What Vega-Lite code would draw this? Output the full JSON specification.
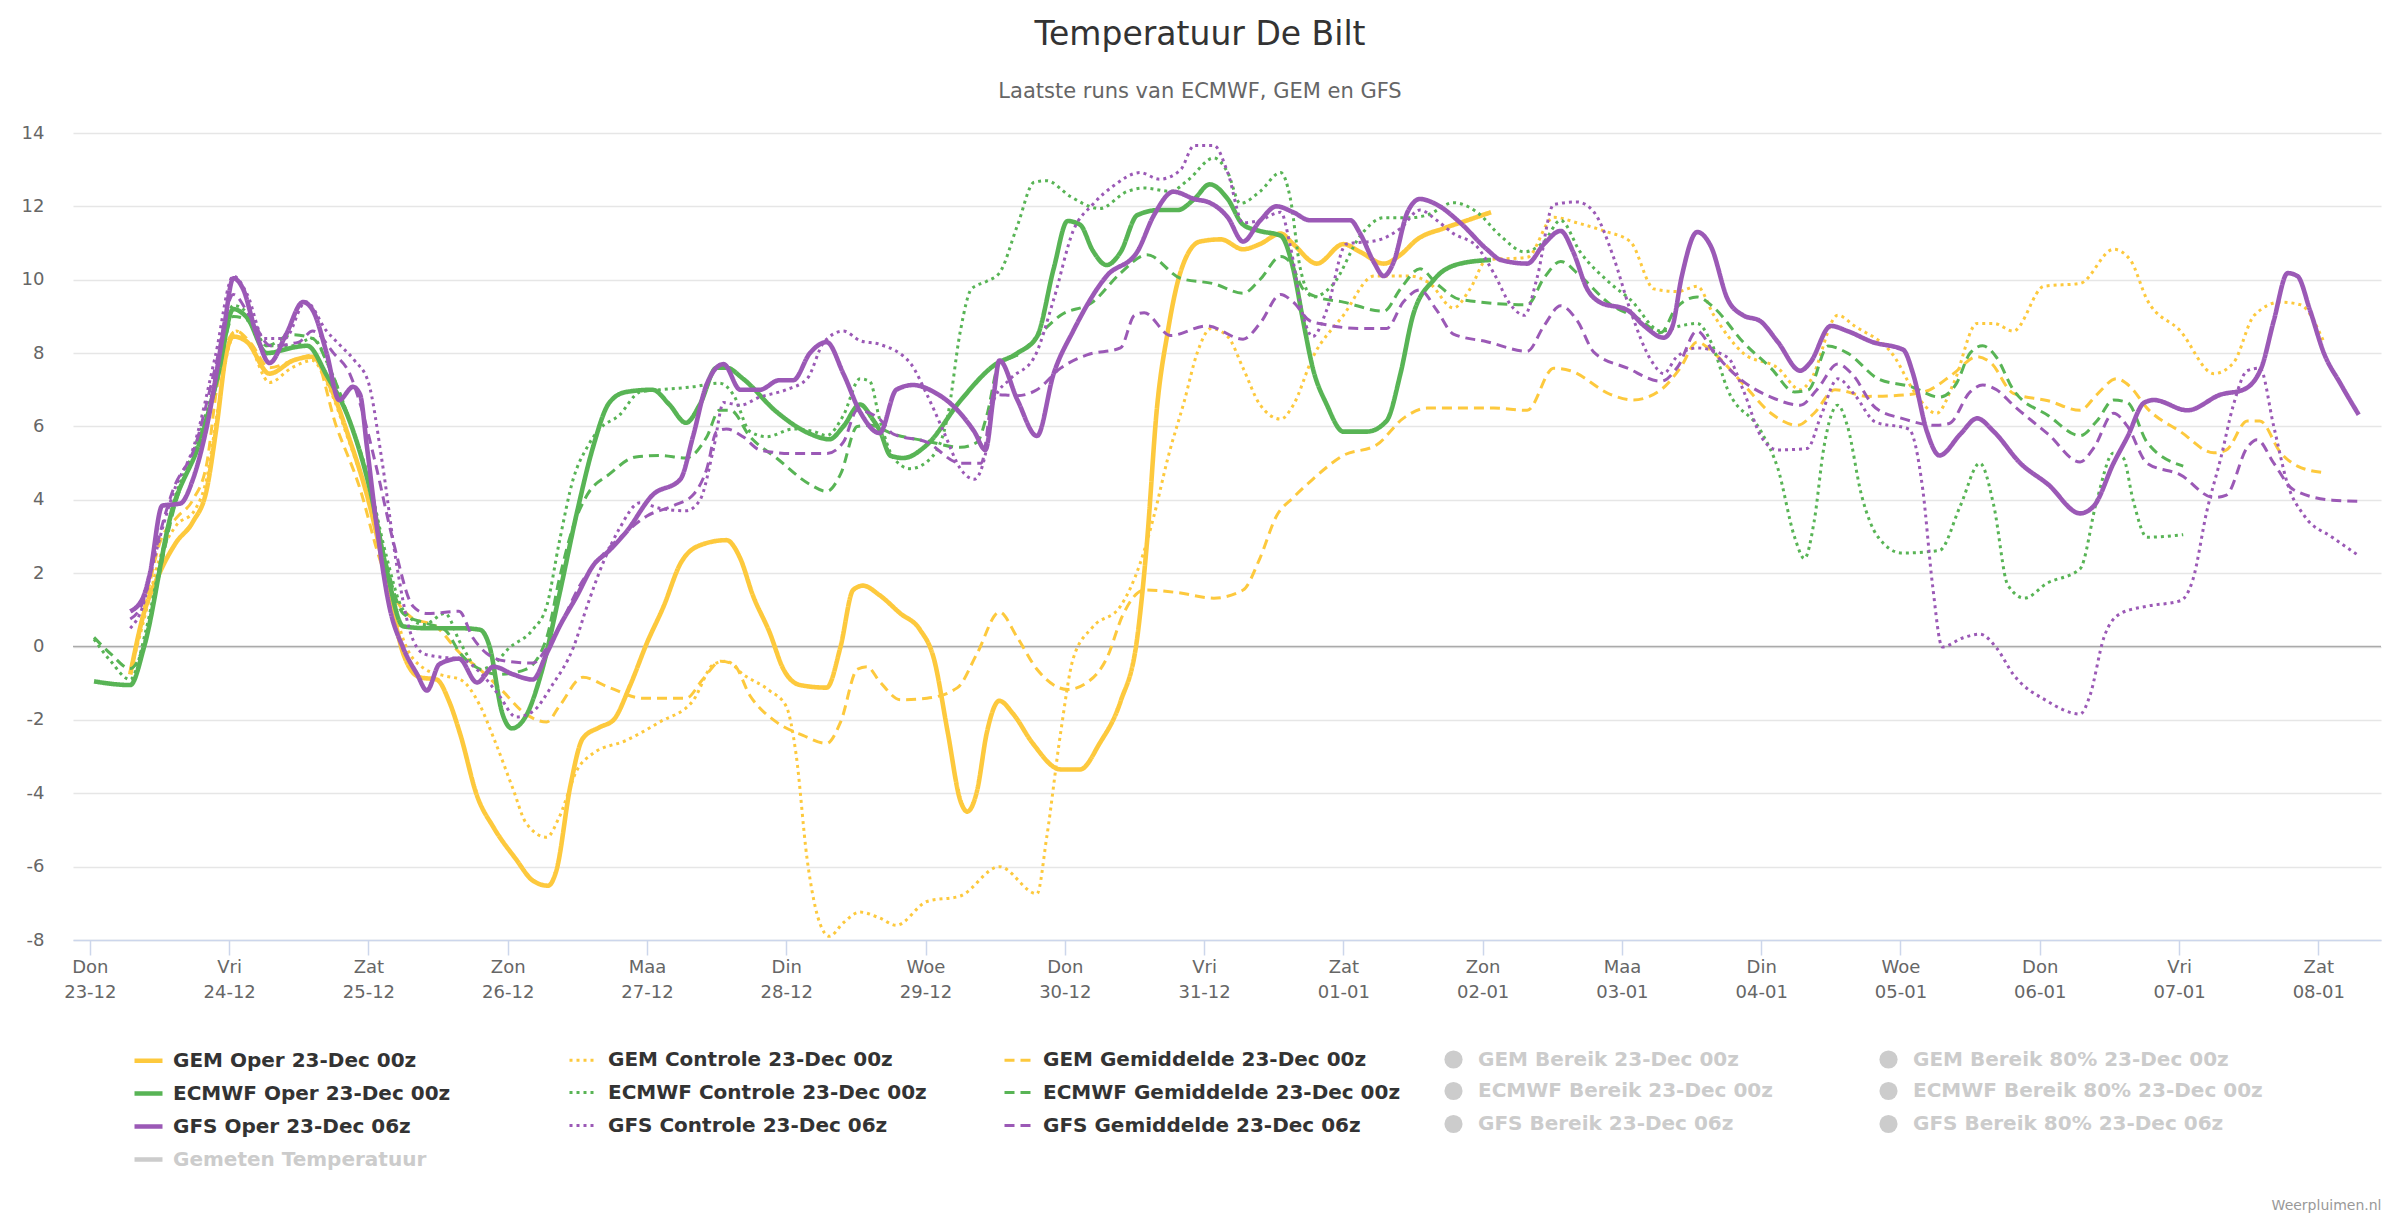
{
"$schema": "https://vega.github.io/schema/vega-lite/v6.json",
"width": 2308, "height": 807,
"autosize": {"type": "none"},
"padding": {"left": 73, "top": 133, "right": 19, "bottom": 279},
"background": "white",
"config": {"view": {"stroke": null}, "font": "DejaVu Sans"},
"title": {"text": "Temperatuur De Bilt", "subtitle": "Laatste runs van ECMWF, GEM en GFS", "anchor": "middle", "frame": "group", "dx": -27, "font": "DejaVu Sans", "fontSize": 33, "fontWeight": "normal", "color": "#333333", "subtitleFont": "DejaVu Sans", "subtitleFontSize": 21, "subtitleColor": "#666666", "subtitlePadding": 29, "offset": 22},
"datasets": {
"reeksen": [
{"s":"GO","naam":"GEM Oper 23-Dec 00z"},{"s":"GC","naam":"GEM Controle 23-Dec 00z"},{"s":"GG","naam":"GEM Gemiddelde 23-Dec 00z"},
{"s":"EO","naam":"ECMWF Oper 23-Dec 00z"},{"s":"EC","naam":"ECMWF Controle 23-Dec 00z"},{"s":"EG","naam":"ECMWF Gemiddelde 23-Dec 00z"},
{"s":"FO","naam":"GFS Oper 23-Dec 06z"},{"s":"FC","naam":"GFS Controle 23-Dec 06z"},{"s":"FG","naam":"GFS Gemiddelde 23-Dec 06z"}],
"punten": [
{"s":"GO","d":0.29,"v":-0.76},{"s":"GO","d":0.38,"v":0.8},{"s":"GO","d":0.5,"v":2.0},{"s":"GO","d":0.62,"v":2.84},{"s":"GO","d":0.74,"v":3.4},{"s":"GO","d":0.84,"v":4.3},{"s":"GO","d":0.91,"v":6.0},{"s":"GO","d":0.98,"v":8.0},{"s":"GO","d":1.03,"v":8.45},{"s":"GO","d":1.13,"v":8.3},{"s":"GO","d":1.29,"v":7.44},{"s":"GO","d":1.46,"v":7.8},{"s":"GO","d":1.6,"v":7.9},{"s":"GO","d":1.7,"v":7.3},{"s":"GO","d":1.86,"v":5.7},{"s":"GO","d":2.01,"v":3.84},{"s":"GO","d":2.13,"v":1.83},{"s":"GO","d":2.25,"v":-0.19},{"s":"GO","d":2.37,"v":-0.84},{"s":"GO","d":2.49,"v":-0.9},{"s":"GO","d":2.58,"v":-1.5},{"s":"GO","d":2.66,"v":-2.4},{"s":"GO","d":2.78,"v":-4.07},{"s":"GO","d":2.9,"v":-4.94},{"s":"GO","d":3.06,"v":-5.8},{"s":"GO","d":3.18,"v":-6.38},{"s":"GO","d":3.29,"v":-6.52},{"s":"GO","d":3.35,"v":-6.1},{"s":"GO","d":3.45,"v":-3.8},{"s":"GO","d":3.54,"v":-2.5},{"s":"GO","d":3.66,"v":-2.2},{"s":"GO","d":3.76,"v":-2.0},{"s":"GO","d":3.88,"v":-1.05},{"s":"GO","d":4.0,"v":0.1},{"s":"GO","d":4.12,"v":1.1},{"s":"GO","d":4.24,"v":2.26},{"s":"GO","d":4.38,"v":2.76},{"s":"GO","d":4.57,"v":2.9},{"s":"GO","d":4.67,"v":2.4},{"s":"GO","d":4.76,"v":1.4},{"s":"GO","d":4.88,"v":0.39},{"s":"GO","d":4.98,"v":-0.62},{"s":"GO","d":5.1,"v":-1.05},{"s":"GO","d":5.29,"v":-1.12},{"s":"GO","d":5.39,"v":0.0},{"s":"GO","d":5.48,"v":1.54},{"s":"GO","d":5.55,"v":1.66},{"s":"GO","d":5.67,"v":1.4},{"s":"GO","d":5.82,"v":0.9},{"s":"GO","d":5.96,"v":0.46},{"s":"GO","d":6.06,"v":-0.33},{"s":"GO","d":6.16,"v":-2.35},{"s":"GO","d":6.25,"v":-4.2},{"s":"GO","d":6.3,"v":-4.5},{"s":"GO","d":6.37,"v":-3.93},{"s":"GO","d":6.44,"v":-2.35},{"s":"GO","d":6.53,"v":-1.48},{"s":"GO","d":6.63,"v":-1.84},{"s":"GO","d":6.77,"v":-2.64},{"s":"GO","d":6.97,"v":-3.35},{"s":"GO","d":7.11,"v":-3.35},{"s":"GO","d":7.25,"v":-2.64},{"s":"GO","d":7.4,"v":-1.5},{"s":"GO","d":7.52,"v":0.24},{"s":"GO","d":7.59,"v":2.84},{"s":"GO","d":7.66,"v":6.44},{"s":"GO","d":7.74,"v":8.6},{"s":"GO","d":7.83,"v":10.2},{"s":"GO","d":7.97,"v":11.04},{"s":"GO","d":8.12,"v":11.1},{"s":"GO","d":8.28,"v":10.83},{"s":"GO","d":8.4,"v":10.97},{"s":"GO","d":8.55,"v":11.26},{"s":"GO","d":8.64,"v":10.97},{"s":"GO","d":8.81,"v":10.44},{"s":"GO","d":9.0,"v":10.97},{"s":"GO","d":9.12,"v":10.76},{"s":"GO","d":9.29,"v":10.44},{"s":"GO","d":9.41,"v":10.68},{"s":"GO","d":9.53,"v":11.1},{"s":"GO","d":9.72,"v":11.4},{"s":"GO","d":9.89,"v":11.62},{"s":"GO","d":10.06,"v":11.84},

{"s":"GC","d":0.29,"v":-0.7},{"s":"GC","d":0.4,"v":0.9},{"s":"GC","d":0.5,"v":2.4},{"s":"GC","d":0.62,"v":3.3},{"s":"GC","d":0.75,"v":3.7},{"s":"GC","d":0.84,"v":4.6},{"s":"GC","d":0.92,"v":6.5},{"s":"GC","d":1.0,"v":8.2},{"s":"GC","d":1.05,"v":8.6},{"s":"GC","d":1.15,"v":8.2},{"s":"GC","d":1.29,"v":7.2},{"s":"GC","d":1.45,"v":7.6},{"s":"GC","d":1.6,"v":7.8},{"s":"GC","d":1.7,"v":7.2},{"s":"GC","d":1.86,"v":5.6},{"s":"GC","d":2.0,"v":4.0},{"s":"GC","d":2.13,"v":2.0},{"s":"GC","d":2.25,"v":0.2},{"s":"GC","d":2.4,"v":-0.6},{"s":"GC","d":2.55,"v":-0.8},{"s":"GC","d":2.66,"v":-0.9},{"s":"GC","d":2.8,"v":-1.6},{"s":"GC","d":2.9,"v":-2.5},{"s":"GC","d":3.04,"v":-3.9},{"s":"GC","d":3.13,"v":-4.8},{"s":"GC","d":3.28,"v":-5.2},{"s":"GC","d":3.37,"v":-4.65},{"s":"GC","d":3.5,"v":-3.35},{"s":"GC","d":3.61,"v":-2.92},{"s":"GC","d":3.85,"v":-2.56},{"s":"GC","d":4.09,"v":-2.06},{"s":"GC","d":4.33,"v":-1.48},{"s":"GC","d":4.48,"v":-0.48},{"s":"GC","d":4.57,"v":-0.4},{"s":"GC","d":4.69,"v":-0.76},{"s":"GC","d":4.88,"v":-1.2},{"s":"GC","d":5.0,"v":-1.63},{"s":"GC","d":5.07,"v":-2.92},{"s":"GC","d":5.15,"v":-5.8},{"s":"GC","d":5.24,"v":-7.53},{"s":"GC","d":5.31,"v":-7.9},{"s":"GC","d":5.41,"v":-7.53},{"s":"GC","d":5.53,"v":-7.24},{"s":"GC","d":5.67,"v":-7.4},{"s":"GC","d":5.79,"v":-7.6},{"s":"GC","d":6.01,"v":-6.95},{"s":"GC","d":6.25,"v":-6.8},{"s":"GC","d":6.53,"v":-6.0},{"s":"GC","d":6.8,"v":-6.74},{"s":"GC","d":6.87,"v":-5.2},{"s":"GC","d":6.97,"v":-2.35},{"s":"GC","d":7.06,"v":-0.33},{"s":"GC","d":7.2,"v":0.53},{"s":"GC","d":7.4,"v":1.1},{"s":"GC","d":7.54,"v":2.26},{"s":"GC","d":7.64,"v":3.56},{"s":"GC","d":7.74,"v":5.14},{"s":"GC","d":7.86,"v":6.72},{"s":"GC","d":7.95,"v":8.0},{"s":"GC","d":8.05,"v":8.67},{"s":"GC","d":8.17,"v":8.45},{"s":"GC","d":8.28,"v":7.59},{"s":"GC","d":8.4,"v":6.6},{"s":"GC","d":8.55,"v":6.2},{"s":"GC","d":8.64,"v":6.58},{"s":"GC","d":8.78,"v":7.88},{"s":"GC","d":9.0,"v":9.03},{"s":"GC","d":9.22,"v":10.1},{"s":"GC","d":9.48,"v":10.1},{"s":"GC","d":9.62,"v":9.9},{"s":"GC","d":9.79,"v":9.23},{"s":"GC","d":9.91,"v":9.75},{"s":"GC","d":10.03,"v":10.54},{"s":"GC","d":10.32,"v":10.61},{"s":"GC","d":10.51,"v":11.7},{"s":"GC","d":10.68,"v":11.55},{"s":"GC","d":10.87,"v":11.33},{"s":"GC","d":11.06,"v":11.04},{"s":"GC","d":11.23,"v":9.75},{"s":"GC","d":11.4,"v":9.68},{"s":"GC","d":11.54,"v":9.82},{"s":"GC","d":11.66,"v":9.03},{"s":"GC","d":11.87,"v":8.0},{"s":"GC","d":12.12,"v":7.59},{"s":"GC","d":12.28,"v":7.0},{"s":"GC","d":12.35,"v":7.23},{"s":"GC","d":12.55,"v":9.03},{"s":"GC","d":12.67,"v":8.74},{"s":"GC","d":12.96,"v":7.88},{"s":"GC","d":13.09,"v":7.0},{"s":"GC","d":13.26,"v":6.36},{"s":"GC","d":13.38,"v":7.16},{"s":"GC","d":13.55,"v":8.81},{"s":"GC","d":13.67,"v":8.81},{"s":"GC","d":13.81,"v":8.6},{"s":"GC","d":14.03,"v":9.82},{"s":"GC","d":14.29,"v":9.9},{"s":"GC","d":14.53,"v":10.83},{"s":"GC","d":14.65,"v":10.54},{"s":"GC","d":14.77,"v":9.46},{"s":"GC","d":15.01,"v":8.6},{"s":"GC","d":15.25,"v":7.44},{"s":"GC","d":15.39,"v":7.73},{"s":"GC","d":15.54,"v":9.03},{"s":"GC","d":15.73,"v":9.39},{"s":"GC","d":15.87,"v":9.32},{"s":"GC","d":16.04,"v":8.3},

{"s":"GG","d":0.29,"v":-0.7},{"s":"GG","d":0.4,"v":1.2},{"s":"GG","d":0.5,"v":2.8},{"s":"GG","d":0.62,"v":3.5},{"s":"GG","d":0.74,"v":4.0},{"s":"GG","d":0.84,"v":5.0},{"s":"GG","d":0.91,"v":7.0},{"s":"GG","d":1.0,"v":8.4},{"s":"GG","d":1.05,"v":8.6},{"s":"GG","d":1.15,"v":8.3},{"s":"GG","d":1.29,"v":7.6},{"s":"GG","d":1.46,"v":7.8},{"s":"GG","d":1.6,"v":7.95},{"s":"GG","d":1.77,"v":6.0},{"s":"GG","d":1.94,"v":4.3},{"s":"GG","d":2.08,"v":2.4},{"s":"GG","d":2.18,"v":1.4},{"s":"GG","d":2.3,"v":0.82},{"s":"GG","d":2.49,"v":0.53},{"s":"GG","d":2.66,"v":-0.19},{"s":"GG","d":2.8,"v":-0.62},{"s":"GG","d":2.96,"v":-1.2},{"s":"GG","d":3.13,"v":-1.84},{"s":"GG","d":3.28,"v":-2.06},{"s":"GG","d":3.37,"v":-1.63},{"s":"GG","d":3.54,"v":-0.84},{"s":"GG","d":3.73,"v":-1.12},{"s":"GG","d":3.97,"v":-1.41},{"s":"GG","d":4.28,"v":-1.41},{"s":"GG","d":4.4,"v":-0.9},{"s":"GG","d":4.53,"v":-0.4},{"s":"GG","d":4.62,"v":-0.48},{"s":"GG","d":4.74,"v":-1.34},{"s":"GG","d":4.93,"v":-2.06},{"s":"GG","d":5.12,"v":-2.42},{"s":"GG","d":5.29,"v":-2.64},{"s":"GG","d":5.39,"v":-2.06},{"s":"GG","d":5.51,"v":-0.62},{"s":"GG","d":5.58,"v":-0.55},{"s":"GG","d":5.67,"v":-0.95},{"s":"GG","d":5.82,"v":-1.45},{"s":"GG","d":6.01,"v":-1.41},{"s":"GG","d":6.23,"v":-1.12},{"s":"GG","d":6.37,"v":-0.19},{"s":"GG","d":6.53,"v":0.94},{"s":"GG","d":6.66,"v":0.24},{"s":"GG","d":6.8,"v":-0.62},{"s":"GG","d":7.02,"v":-1.17},{"s":"GG","d":7.16,"v":-0.98},{"s":"GG","d":7.3,"v":-0.33},{"s":"GG","d":7.42,"v":0.89},{"s":"GG","d":7.57,"v":1.54},{"s":"GG","d":7.81,"v":1.47},{"s":"GG","d":8.07,"v":1.32},{"s":"GG","d":8.28,"v":1.54},{"s":"GG","d":8.4,"v":2.4},{"s":"GG","d":8.52,"v":3.56},{"s":"GG","d":8.64,"v":4.06},{"s":"GG","d":8.78,"v":4.56},{"s":"GG","d":9.0,"v":5.21},{"s":"GG","d":9.24,"v":5.5},{"s":"GG","d":9.43,"v":6.22},{"s":"GG","d":9.6,"v":6.5},{"s":"GG","d":10.08,"v":6.5},{"s":"GG","d":10.32,"v":6.44},{"s":"GG","d":10.51,"v":7.59},{"s":"GG","d":10.63,"v":7.52},{"s":"GG","d":10.92,"v":6.87},{"s":"GG","d":11.08,"v":6.72},{"s":"GG","d":11.28,"v":7.0},{"s":"GG","d":11.42,"v":7.6},{"s":"GG","d":11.54,"v":8.3},{"s":"GG","d":11.66,"v":8.0},{"s":"GG","d":11.87,"v":7.16},{"s":"GG","d":12.07,"v":6.36},{"s":"GG","d":12.26,"v":6.03},{"s":"GG","d":12.38,"v":6.36},{"s":"GG","d":12.53,"v":7.0},{"s":"GG","d":12.77,"v":6.82},{"s":"GG","d":13.06,"v":6.87},{"s":"GG","d":13.21,"v":7.0},{"s":"GG","d":13.38,"v":7.44},{"s":"GG","d":13.55,"v":7.9},{"s":"GG","d":13.65,"v":7.73},{"s":"GG","d":13.81,"v":6.9},{"s":"GG","d":14.06,"v":6.7},{"s":"GG","d":14.29,"v":6.44},{"s":"GG","d":14.41,"v":6.87},{"s":"GG","d":14.55,"v":7.3},{"s":"GG","d":14.65,"v":7.08},{"s":"GG","d":14.77,"v":6.5},{"s":"GG","d":15.01,"v":5.86},{"s":"GG","d":15.25,"v":5.28},{"s":"GG","d":15.34,"v":5.36},{"s":"GG","d":15.49,"v":6.15},{"s":"GG","d":15.58,"v":6.15},{"s":"GG","d":15.73,"v":5.28},{"s":"GG","d":15.85,"v":4.92},{"s":"GG","d":16.04,"v":4.74},

{"s":"EO","d":0.03,"v":-0.95},{"s":"EO","d":0.29,"v":-1.05},{"s":"EO","d":0.39,"v":0.0},{"s":"EO","d":0.58,"v":3.56},{"s":"EO","d":0.8,"v":5.7},{"s":"EO","d":0.92,"v":7.4},{"s":"EO","d":1.03,"v":9.2},{"s":"EO","d":1.13,"v":8.96},{"s":"EO","d":1.27,"v":8.0},{"s":"EO","d":1.47,"v":8.16},{"s":"EO","d":1.56,"v":8.2},{"s":"EO","d":1.7,"v":7.4},{"s":"EO","d":1.87,"v":6.1},{"s":"EO","d":2.01,"v":4.3},{"s":"EO","d":2.13,"v":2.1},{"s":"EO","d":2.25,"v":0.55},{"s":"EO","d":2.42,"v":0.5},{"s":"EO","d":2.66,"v":0.5},{"s":"EO","d":2.8,"v":0.46},{"s":"EO","d":2.87,"v":0.0},{"s":"EO","d":2.96,"v":-1.8},{"s":"EO","d":3.03,"v":-2.23},{"s":"EO","d":3.13,"v":-1.9},{"s":"EO","d":3.25,"v":-0.6},{"s":"EO","d":3.37,"v":1.4},{"s":"EO","d":3.5,"v":3.7},{"s":"EO","d":3.61,"v":5.4},{"s":"EO","d":3.73,"v":6.65},{"s":"EO","d":3.85,"v":6.94},{"s":"EO","d":4.04,"v":7.0},{"s":"EO","d":4.16,"v":6.6},{"s":"EO","d":4.28,"v":6.1},{"s":"EO","d":4.38,"v":6.6},{"s":"EO","d":4.5,"v":7.6},{"s":"EO","d":4.57,"v":7.6},{"s":"EO","d":4.69,"v":7.3},{"s":"EO","d":4.93,"v":6.4},{"s":"EO","d":5.17,"v":5.8},{"s":"EO","d":5.31,"v":5.65},{"s":"EO","d":5.41,"v":6.0},{"s":"EO","d":5.53,"v":6.6},{"s":"EO","d":5.62,"v":6.2},{"s":"EO","d":5.67,"v":5.9},{"s":"EO","d":5.75,"v":5.2},{"s":"EO","d":5.84,"v":5.14},{"s":"EO","d":6.01,"v":5.5},{"s":"EO","d":6.25,"v":6.7},{"s":"EO","d":6.49,"v":7.66},{"s":"EO","d":6.66,"v":8.0},{"s":"EO","d":6.8,"v":8.45},{"s":"EO","d":6.92,"v":10.3},{"s":"EO","d":7.02,"v":11.6},{"s":"EO","d":7.11,"v":11.5},{"s":"EO","d":7.2,"v":10.8},{"s":"EO","d":7.3,"v":10.4},{"s":"EO","d":7.4,"v":10.75},{"s":"EO","d":7.52,"v":11.76},{"s":"EO","d":7.68,"v":11.9},{"s":"EO","d":7.81,"v":11.9},{"s":"EO","d":7.93,"v":12.2},{"s":"EO","d":8.04,"v":12.6},{"s":"EO","d":8.17,"v":12.2},{"s":"EO","d":8.28,"v":11.5},{"s":"EO","d":8.4,"v":11.33},{"s":"EO","d":8.55,"v":11.2},{"s":"EO","d":8.64,"v":10.3},{"s":"EO","d":8.71,"v":8.9},{"s":"EO","d":8.78,"v":7.6},{"s":"EO","d":8.88,"v":6.6},{"s":"EO","d":9.0,"v":5.86},{"s":"EO","d":9.17,"v":5.86},{"s":"EO","d":9.31,"v":6.15},{"s":"EO","d":9.41,"v":7.44},{"s":"EO","d":9.5,"v":9.03},{"s":"EO","d":9.65,"v":10.0},{"s":"EO","d":9.84,"v":10.44},{"s":"EO","d":10.06,"v":10.54},

{"s":"EC","d":0.03,"v":0.2},{"s":"EC","d":0.15,"v":-0.4},{"s":"EC","d":0.29,"v":-0.9},{"s":"EC","d":0.4,"v":0.4},{"s":"EC","d":0.5,"v":2.2},{"s":"EC","d":0.6,"v":3.9},{"s":"EC","d":0.75,"v":5.4},{"s":"EC","d":0.9,"v":7.2},{"s":"EC","d":1.03,"v":9.3},{"s":"EC","d":1.13,"v":9.1},{"s":"EC","d":1.27,"v":8.2},{"s":"EC","d":1.45,"v":8.2},{"s":"EC","d":1.6,"v":8.4},{"s":"EC","d":1.72,"v":7.6},{"s":"EC","d":1.87,"v":6.1},{"s":"EC","d":2.0,"v":4.6},{"s":"EC","d":2.12,"v":2.6},{"s":"EC","d":2.25,"v":1.0},{"s":"EC","d":2.4,"v":0.6},{"s":"EC","d":2.55,"v":0.9},{"s":"EC","d":2.66,"v":0.1},{"s":"EC","d":2.8,"v":-0.62},{"s":"EC","d":2.9,"v":-0.48},{"s":"EC","d":3.01,"v":-0.04},{"s":"EC","d":3.18,"v":0.46},{"s":"EC","d":3.28,"v":1.1},{"s":"EC","d":3.37,"v":2.84},{"s":"EC","d":3.47,"v":4.56},{"s":"EC","d":3.57,"v":5.43},{"s":"EC","d":3.66,"v":5.93},{"s":"EC","d":3.8,"v":6.3},{"s":"EC","d":3.95,"v":6.94},{"s":"EC","d":4.09,"v":7.0},{"s":"EC","d":4.33,"v":7.08},{"s":"EC","d":4.52,"v":7.18},{"s":"EC","d":4.62,"v":6.87},{"s":"EC","d":4.74,"v":5.86},{"s":"EC","d":4.86,"v":5.72},{"s":"EC","d":5.05,"v":5.93},{"s":"EC","d":5.2,"v":5.86},{"s":"EC","d":5.29,"v":5.75},{"s":"EC","d":5.41,"v":6.3},{"s":"EC","d":5.53,"v":7.3},{"s":"EC","d":5.6,"v":7.23},{"s":"EC","d":5.67,"v":6.2},{"s":"EC","d":5.77,"v":5.14},{"s":"EC","d":5.89,"v":4.85},{"s":"EC","d":6.04,"v":5.14},{"s":"EC","d":6.16,"v":6.3},{"s":"EC","d":6.25,"v":8.6},{"s":"EC","d":6.33,"v":9.75},{"s":"EC","d":6.44,"v":9.96},{"s":"EC","d":6.53,"v":10.18},{"s":"EC","d":6.66,"v":11.48},{"s":"EC","d":6.78,"v":12.66},{"s":"EC","d":6.87,"v":12.7},{"s":"EC","d":7.04,"v":12.27},{"s":"EC","d":7.25,"v":11.94},{"s":"EC","d":7.45,"v":12.41},{"s":"EC","d":7.57,"v":12.5},{"s":"EC","d":7.76,"v":12.41},{"s":"EC","d":7.88,"v":12.7},{"s":"EC","d":8.07,"v":13.32},{"s":"EC","d":8.17,"v":12.92},{"s":"EC","d":8.26,"v":12.08},{"s":"EC","d":8.4,"v":12.4},{"s":"EC","d":8.55,"v":12.92},{"s":"EC","d":8.62,"v":12.2},{"s":"EC","d":8.69,"v":10.32},{"s":"EC","d":8.78,"v":9.53},{"s":"EC","d":8.93,"v":9.89},{"s":"EC","d":9.12,"v":11.19},{"s":"EC","d":9.29,"v":11.69},{"s":"EC","d":9.48,"v":11.69},{"s":"EC","d":9.6,"v":11.76},{"s":"EC","d":9.79,"v":12.1},{"s":"EC","d":9.96,"v":11.84},{"s":"EC","d":10.13,"v":11.19},{"s":"EC","d":10.3,"v":10.76},{"s":"EC","d":10.44,"v":11.04},{"s":"EC","d":10.56,"v":11.62},{"s":"EC","d":10.7,"v":10.76},{"s":"EC","d":10.92,"v":9.89},{"s":"EC","d":11.06,"v":9.46},{"s":"EC","d":11.28,"v":8.6},{"s":"EC","d":11.42,"v":8.74},{"s":"EC","d":11.54,"v":8.81},{"s":"EC","d":11.64,"v":8.3},{"s":"EC","d":11.76,"v":7.0},{"s":"EC","d":12.0,"v":5.86},{"s":"EC","d":12.12,"v":4.85},{"s":"EC","d":12.24,"v":2.98},{"s":"EC","d":12.31,"v":2.4},{"s":"EC","d":12.38,"v":3.41},{"s":"EC","d":12.45,"v":5.43},{"s":"EC","d":12.55,"v":6.58},{"s":"EC","d":12.62,"v":6.0},{"s":"EC","d":12.72,"v":4.13},{"s":"EC","d":12.84,"v":2.98},{"s":"EC","d":13.01,"v":2.55},{"s":"EC","d":13.28,"v":2.62},{"s":"EC","d":13.43,"v":3.84},{"s":"EC","d":13.57,"v":5.0},{"s":"EC","d":13.67,"v":3.84},{"s":"EC","d":13.77,"v":1.68},{"s":"EC","d":13.89,"v":1.32},{"s":"EC","d":14.05,"v":1.72},{"s":"EC","d":14.29,"v":2.12},{"s":"EC","d":14.41,"v":3.99},{"s":"EC","d":14.53,"v":5.28},{"s":"EC","d":14.6,"v":5.14},{"s":"EC","d":14.67,"v":3.99},{"s":"EC","d":14.77,"v":2.98},{"s":"EC","d":15.03,"v":3.05},

{"s":"EG","d":0.03,"v":0.25},{"s":"EG","d":0.15,"v":-0.2},{"s":"EG","d":0.29,"v":-0.6},{"s":"EG","d":0.4,"v":0.2},{"s":"EG","d":0.5,"v":2.0},{"s":"EG","d":0.6,"v":3.7},{"s":"EG","d":0.75,"v":5.3},{"s":"EG","d":0.9,"v":7.0},{"s":"EG","d":1.03,"v":9.0},{"s":"EG","d":1.13,"v":8.9},{"s":"EG","d":1.27,"v":8.2},{"s":"EG","d":1.45,"v":8.5},{"s":"EG","d":1.6,"v":8.4},{"s":"EG","d":1.72,"v":7.6},{"s":"EG","d":1.87,"v":6.1},{"s":"EG","d":2.0,"v":4.5},{"s":"EG","d":2.12,"v":2.4},{"s":"EG","d":2.25,"v":0.9},{"s":"EG","d":2.4,"v":0.65},{"s":"EG","d":2.55,"v":0.45},{"s":"EG","d":2.66,"v":-0.19},{"s":"EG","d":2.8,"v":-0.62},{"s":"EG","d":2.94,"v":-0.76},{"s":"EG","d":3.13,"v":-0.62},{"s":"EG","d":3.28,"v":0.24},{"s":"EG","d":3.37,"v":1.83},{"s":"EG","d":3.47,"v":3.27},{"s":"EG","d":3.57,"v":4.13},{"s":"EG","d":3.73,"v":4.7},{"s":"EG","d":3.92,"v":5.17},{"s":"EG","d":4.09,"v":5.21},{"s":"EG","d":4.28,"v":5.14},{"s":"EG","d":4.43,"v":5.72},{"s":"EG","d":4.52,"v":6.44},{"s":"EG","d":4.6,"v":6.44},{"s":"EG","d":4.74,"v":5.72},{"s":"EG","d":4.93,"v":5.14},{"s":"EG","d":5.17,"v":4.42},{"s":"EG","d":5.29,"v":4.23},{"s":"EG","d":5.39,"v":4.7},{"s":"EG","d":5.51,"v":6.0},{"s":"EG","d":5.6,"v":6.03},{"s":"EG","d":5.77,"v":5.79},{"s":"EG","d":6.01,"v":5.6},{"s":"EG","d":6.25,"v":5.43},{"s":"EG","d":6.37,"v":5.57},{"s":"EG","d":6.44,"v":6.3},{"s":"EG","d":6.53,"v":7.73},{"s":"EG","d":6.66,"v":7.95},{"s":"EG","d":6.8,"v":8.45},{"s":"EG","d":6.97,"v":9.03},{"s":"EG","d":7.2,"v":9.39},{"s":"EG","d":7.4,"v":10.18},{"s":"EG","d":7.59,"v":10.68},{"s":"EG","d":7.83,"v":10.04},{"s":"EG","d":8.07,"v":9.89},{"s":"EG","d":8.28,"v":9.63},{"s":"EG","d":8.4,"v":10.0},{"s":"EG","d":8.55,"v":10.63},{"s":"EG","d":8.62,"v":10.47},{"s":"EG","d":8.71,"v":9.75},{"s":"EG","d":8.81,"v":9.53},{"s":"EG","d":9.0,"v":9.39},{"s":"EG","d":9.29,"v":9.14},{"s":"EG","d":9.41,"v":9.75},{"s":"EG","d":9.55,"v":10.3},{"s":"EG","d":9.67,"v":9.89},{"s":"EG","d":9.84,"v":9.46},{"s":"EG","d":10.32,"v":9.32},{"s":"EG","d":10.44,"v":10.04},{"s":"EG","d":10.56,"v":10.5},{"s":"EG","d":10.7,"v":10.1},{"s":"EG","d":10.92,"v":9.32},{"s":"EG","d":11.11,"v":8.96},{"s":"EG","d":11.28,"v":8.56},{"s":"EG","d":11.39,"v":9.24},{"s":"EG","d":11.54,"v":9.53},{"s":"EG","d":11.66,"v":9.24},{"s":"EG","d":11.87,"v":8.3},{"s":"EG","d":12.07,"v":7.59},{"s":"EG","d":12.24,"v":6.94},{"s":"EG","d":12.34,"v":7.0},{"s":"EG","d":12.48,"v":8.19},{"s":"EG","d":12.62,"v":8.0},{"s":"EG","d":12.84,"v":7.3},{"s":"EG","d":13.08,"v":7.08},{"s":"EG","d":13.28,"v":6.8},{"s":"EG","d":13.4,"v":7.16},{"s":"EG","d":13.5,"v":8.0},{"s":"EG","d":13.59,"v":8.2},{"s":"EG","d":13.69,"v":7.88},{"s":"EG","d":13.81,"v":7.0},{"s":"EG","d":14.06,"v":6.3},{"s":"EG","d":14.29,"v":5.75},{"s":"EG","d":14.41,"v":6.15},{"s":"EG","d":14.53,"v":6.72},{"s":"EG","d":14.63,"v":6.65},{"s":"EG","d":14.77,"v":5.57},{"s":"EG","d":15.03,"v":4.92},

{"s":"FO","d":0.29,"v":0.96},{"s":"FO","d":0.38,"v":1.32},{"s":"FO","d":0.43,"v":1.97},{"s":"FO","d":0.52,"v":3.84},{"s":"FO","d":0.65,"v":3.9},{"s":"FO","d":0.74,"v":4.56},{"s":"FO","d":0.84,"v":6.0},{"s":"FO","d":0.96,"v":8.6},{"s":"FO","d":1.03,"v":10.04},{"s":"FO","d":1.1,"v":9.75},{"s":"FO","d":1.19,"v":8.6},{"s":"FO","d":1.29,"v":7.73},{"s":"FO","d":1.41,"v":8.52},{"s":"FO","d":1.53,"v":9.39},{"s":"FO","d":1.6,"v":9.17},{"s":"FO","d":1.7,"v":8.0},{"s":"FO","d":1.79,"v":6.72},{"s":"FO","d":1.89,"v":7.08},{"s":"FO","d":1.94,"v":6.87},{"s":"FO","d":1.99,"v":5.43},{"s":"FO","d":2.06,"v":3.27},{"s":"FO","d":2.15,"v":1.1},{"s":"FO","d":2.25,"v":-0.04},{"s":"FO","d":2.35,"v":-0.76},{"s":"FO","d":2.42,"v":-1.2},{"s":"FO","d":2.51,"v":-0.48},{"s":"FO","d":2.65,"v":-0.33},{"s":"FO","d":2.78,"v":-0.98},{"s":"FO","d":2.9,"v":-0.55},{"s":"FO","d":3.04,"v":-0.76},{"s":"FO","d":3.18,"v":-0.9},{"s":"FO","d":3.28,"v":-0.19},{"s":"FO","d":3.37,"v":0.53},{"s":"FO","d":3.5,"v":1.4},{"s":"FO","d":3.61,"v":2.19},{"s":"FO","d":3.73,"v":2.62},{"s":"FO","d":3.85,"v":3.12},{"s":"FO","d":4.04,"v":4.13},{"s":"FO","d":4.24,"v":4.56},{"s":"FO","d":4.33,"v":5.72},{"s":"FO","d":4.43,"v":7.16},{"s":"FO","d":4.55,"v":7.7},{"s":"FO","d":4.67,"v":7.0},{"s":"FO","d":4.81,"v":7.0},{"s":"FO","d":4.95,"v":7.26},{"s":"FO","d":5.05,"v":7.26},{"s":"FO","d":5.17,"v":8.0},{"s":"FO","d":5.29,"v":8.3},{"s":"FO","d":5.41,"v":7.44},{"s":"FO","d":5.53,"v":6.4},{"s":"FO","d":5.67,"v":5.82},{"s":"FO","d":5.79,"v":7.0},{"s":"FO","d":5.91,"v":7.13},{"s":"FO","d":6.06,"v":6.94},{"s":"FO","d":6.23,"v":6.44},{"s":"FO","d":6.35,"v":5.86},{"s":"FO","d":6.43,"v":5.36},{"s":"FO","d":6.49,"v":6.87},{"s":"FO","d":6.53,"v":7.8},{"s":"FO","d":6.66,"v":6.72},{"s":"FO","d":6.8,"v":5.74},{"s":"FO","d":6.92,"v":7.44},{"s":"FO","d":7.06,"v":8.6},{"s":"FO","d":7.3,"v":10.1},{"s":"FO","d":7.52,"v":10.76},{"s":"FO","d":7.64,"v":11.76},{"s":"FO","d":7.78,"v":12.4},{"s":"FO","d":7.93,"v":12.2},{"s":"FO","d":8.04,"v":12.1},{"s":"FO","d":8.17,"v":11.7},{"s":"FO","d":8.28,"v":11.04},{"s":"FO","d":8.4,"v":11.6},{"s":"FO","d":8.52,"v":12.0},{"s":"FO","d":8.64,"v":11.84},{"s":"FO","d":8.76,"v":11.62},{"s":"FO","d":9.05,"v":11.62},{"s":"FO","d":9.12,"v":11.26},{"s":"FO","d":9.22,"v":10.47},{"s":"FO","d":9.29,"v":10.1},{"s":"FO","d":9.36,"v":10.47},{"s":"FO","d":9.46,"v":11.84},{"s":"FO","d":9.55,"v":12.2},{"s":"FO","d":9.67,"v":12.05},{"s":"FO","d":9.84,"v":11.55},{"s":"FO","d":10.03,"v":10.83},{"s":"FO","d":10.13,"v":10.54},{"s":"FO","d":10.32,"v":10.44},{"s":"FO","d":10.44,"v":10.97},{"s":"FO","d":10.56,"v":11.33},{"s":"FO","d":10.65,"v":10.76},{"s":"FO","d":10.75,"v":9.75},{"s":"FO","d":10.84,"v":9.39},{"s":"FO","d":11.04,"v":9.17},{"s":"FO","d":11.16,"v":8.74},{"s":"FO","d":11.3,"v":8.42},{"s":"FO","d":11.36,"v":8.7},{"s":"FO","d":11.43,"v":10.1},{"s":"FO","d":11.54,"v":11.3},{"s":"FO","d":11.64,"v":10.9},{"s":"FO","d":11.76,"v":9.46},{"s":"FO","d":11.87,"v":9.03},{"s":"FO","d":11.99,"v":8.88},{"s":"FO","d":12.12,"v":8.3},{"s":"FO","d":12.28,"v":7.52},{"s":"FO","d":12.35,"v":7.73},{"s":"FO","d":12.5,"v":8.74},{"s":"FO","d":12.62,"v":8.6},{"s":"FO","d":12.8,"v":8.3},{"s":"FO","d":13.02,"v":8.09},{"s":"FO","d":13.09,"v":7.44},{"s":"FO","d":13.19,"v":5.86},{"s":"FO","d":13.28,"v":5.21},{"s":"FO","d":13.43,"v":5.79},{"s":"FO","d":13.55,"v":6.22},{"s":"FO","d":13.67,"v":5.86},{"s":"FO","d":13.86,"v":5.0},{"s":"FO","d":14.06,"v":4.42},{"s":"FO","d":14.29,"v":3.63},{"s":"FO","d":14.39,"v":3.84},{"s":"FO","d":14.53,"v":5.0},{"s":"FO","d":14.63,"v":5.72},{"s":"FO","d":14.75,"v":6.65},{"s":"FO","d":14.82,"v":6.72},{"s":"FO","d":15.06,"v":6.44},{"s":"FO","d":15.3,"v":6.87},{"s":"FO","d":15.46,"v":7.0},{"s":"FO","d":15.59,"v":7.59},{"s":"FO","d":15.68,"v":8.88},{"s":"FO","d":15.78,"v":10.18},{"s":"FO","d":15.85,"v":10.1},{"s":"FO","d":15.94,"v":9.17},{"s":"FO","d":16.04,"v":8.0},{"s":"FO","d":16.16,"v":7.16},{"s":"FO","d":16.29,"v":6.32},

{"s":"FC","d":0.29,"v":0.5},{"s":"FC","d":0.38,"v":1.1},{"s":"FC","d":0.45,"v":2.2},{"s":"FC","d":0.6,"v":4.2},{"s":"FC","d":0.75,"v":5.5},{"s":"FC","d":0.9,"v":7.9},{"s":"FC","d":1.03,"v":10.1},{"s":"FC","d":1.13,"v":9.6},{"s":"FC","d":1.25,"v":8.4},{"s":"FC","d":1.4,"v":8.4},{"s":"FC","d":1.55,"v":9.4},{"s":"FC","d":1.7,"v":8.6},{"s":"FC","d":1.8,"v":8.2},{"s":"FC","d":1.9,"v":7.8},{"s":"FC","d":2.0,"v":7.2},{"s":"FC","d":2.1,"v":5.0},{"s":"FC","d":2.2,"v":2.3},{"s":"FC","d":2.3,"v":0.4},{"s":"FC","d":2.4,"v":-0.2},{"s":"FC","d":2.55,"v":-0.3},{"s":"FC","d":2.66,"v":-0.33},{"s":"FC","d":2.8,"v":-0.7},{"s":"FC","d":2.94,"v":-1.34},{"s":"FC","d":3.06,"v":-1.92},{"s":"FC","d":3.18,"v":-1.77},{"s":"FC","d":3.32,"v":-1.05},{"s":"FC","d":3.47,"v":-0.04},{"s":"FC","d":3.57,"v":1.1},{"s":"FC","d":3.69,"v":2.33},{"s":"FC","d":3.8,"v":3.2},{"s":"FC","d":3.95,"v":3.92},{"s":"FC","d":4.09,"v":3.77},{"s":"FC","d":4.28,"v":3.7},{"s":"FC","d":4.38,"v":3.99},{"s":"FC","d":4.48,"v":5.43},{"s":"FC","d":4.55,"v":6.65},{"s":"FC","d":4.67,"v":6.58},{"s":"FC","d":4.81,"v":6.8},{"s":"FC","d":5.0,"v":7.0},{"s":"FC","d":5.15,"v":7.3},{"s":"FC","d":5.27,"v":8.3},{"s":"FC","d":5.41,"v":8.6},{"s":"FC","d":5.53,"v":8.34},{"s":"FC","d":5.67,"v":8.24},{"s":"FC","d":5.89,"v":7.73},{"s":"FC","d":6.01,"v":6.87},{"s":"FC","d":6.13,"v":5.86},{"s":"FC","d":6.25,"v":4.85},{"s":"FC","d":6.35,"v":4.56},{"s":"FC","d":6.44,"v":5.43},{"s":"FC","d":6.49,"v":6.72},{"s":"FC","d":6.61,"v":7.3},{"s":"FC","d":6.78,"v":7.88},{"s":"FC","d":6.92,"v":9.46},{"s":"FC","d":7.06,"v":11.33},{"s":"FC","d":7.2,"v":12.05},{"s":"FC","d":7.35,"v":12.56},{"s":"FC","d":7.54,"v":12.92},{"s":"FC","d":7.68,"v":12.74},{"s":"FC","d":7.83,"v":12.99},{"s":"FC","d":7.93,"v":13.66},{"s":"FC","d":8.07,"v":13.66},{"s":"FC","d":8.17,"v":12.92},{"s":"FC","d":8.28,"v":11.55},{"s":"FC","d":8.4,"v":11.62},{"s":"FC","d":8.55,"v":11.84},{"s":"FC","d":8.62,"v":10.9},{"s":"FC","d":8.71,"v":9.03},{"s":"FC","d":8.78,"v":8.45},{"s":"FC","d":8.88,"v":9.17},{"s":"FC","d":9.02,"v":10.97},{"s":"FC","d":9.24,"v":11.07},{"s":"FC","d":9.41,"v":11.4},{"s":"FC","d":9.55,"v":11.9},{"s":"FC","d":9.67,"v":11.62},{"s":"FC","d":9.79,"v":11.26},{"s":"FC","d":9.96,"v":10.9},{"s":"FC","d":10.08,"v":10.18},{"s":"FC","d":10.2,"v":9.32},{"s":"FC","d":10.3,"v":9.03},{"s":"FC","d":10.39,"v":10.04},{"s":"FC","d":10.51,"v":12.05},{"s":"FC","d":10.68,"v":12.12},{"s":"FC","d":10.8,"v":11.84},{"s":"FC","d":10.94,"v":10.61},{"s":"FC","d":11.06,"v":9.17},{"s":"FC","d":11.21,"v":7.8},{"s":"FC","d":11.3,"v":7.44},{"s":"FC","d":11.39,"v":7.88},{"s":"FC","d":11.54,"v":8.14},{"s":"FC","d":11.76,"v":7.88},{"s":"FC","d":11.87,"v":7.0},{"s":"FC","d":12.0,"v":5.72},{"s":"FC","d":12.12,"v":5.36},{"s":"FC","d":12.33,"v":5.4},{"s":"FC","d":12.43,"v":6.3},{"s":"FC","d":12.55,"v":7.3},{"s":"FC","d":12.67,"v":6.87},{"s":"FC","d":12.82,"v":6.12},{"s":"FC","d":13.06,"v":5.93},{"s":"FC","d":13.16,"v":4.28},{"s":"FC","d":13.23,"v":1.68},{"s":"FC","d":13.3,"v":-0.01},{"s":"FC","d":13.45,"v":0.24},{"s":"FC","d":13.57,"v":0.34},{"s":"FC","d":13.69,"v":-0.04},{"s":"FC","d":13.81,"v":-0.76},{"s":"FC","d":14.05,"v":-1.48},{"s":"FC","d":14.29,"v":-1.84},{"s":"FC","d":14.36,"v":-1.34},{"s":"FC","d":14.46,"v":0.24},{"s":"FC","d":14.58,"v":0.9},{"s":"FC","d":14.77,"v":1.1},{"s":"FC","d":15.01,"v":1.25},{"s":"FC","d":15.1,"v":1.83},{"s":"FC","d":15.2,"v":3.7},{"s":"FC","d":15.3,"v":5.14},{"s":"FC","d":15.39,"v":6.58},{"s":"FC","d":15.49,"v":7.52},{"s":"FC","d":15.58,"v":7.59},{"s":"FC","d":15.68,"v":6.0},{"s":"FC","d":15.78,"v":4.42},{"s":"FC","d":15.9,"v":3.56},{"s":"FC","d":16.1,"v":2.98},{"s":"FC","d":16.29,"v":2.48},

{"s":"FG","d":0.29,"v":0.75},{"s":"FG","d":0.38,"v":1.2},{"s":"FG","d":0.45,"v":2.3},{"s":"FG","d":0.6,"v":4.3},{"s":"FG","d":0.75,"v":5.4},{"s":"FG","d":0.9,"v":7.6},{"s":"FG","d":1.03,"v":9.6},{"s":"FG","d":1.15,"v":9.0},{"s":"FG","d":1.3,"v":8.2},{"s":"FG","d":1.5,"v":8.3},{"s":"FG","d":1.6,"v":8.6},{"s":"FG","d":1.75,"v":8.0},{"s":"FG","d":1.87,"v":7.4},{"s":"FG","d":1.95,"v":6.5},{"s":"FG","d":2.05,"v":5.0},{"s":"FG","d":2.18,"v":2.84},{"s":"FG","d":2.32,"v":1.1},{"s":"FG","d":2.42,"v":0.9},{"s":"FG","d":2.65,"v":0.96},{"s":"FG","d":2.75,"v":0.24},{"s":"FG","d":2.85,"v":-0.19},{"s":"FG","d":2.99,"v":-0.4},{"s":"FG","d":3.18,"v":-0.45},{"s":"FG","d":3.28,"v":-0.04},{"s":"FG","d":3.39,"v":0.68},{"s":"FG","d":3.52,"v":1.68},{"s":"FG","d":3.66,"v":2.4},{"s":"FG","d":3.85,"v":3.12},{"s":"FG","d":4.0,"v":3.56},{"s":"FG","d":4.19,"v":3.84},{"s":"FG","d":4.33,"v":4.13},{"s":"FG","d":4.43,"v":4.85},{"s":"FG","d":4.5,"v":5.86},{"s":"FG","d":4.57,"v":5.93},{"s":"FG","d":4.69,"v":5.72},{"s":"FG","d":4.81,"v":5.36},{"s":"FG","d":5.05,"v":5.26},{"s":"FG","d":5.29,"v":5.26},{"s":"FG","d":5.41,"v":5.57},{"s":"FG","d":5.51,"v":6.44},{"s":"FG","d":5.67,"v":6.2},{"s":"FG","d":5.77,"v":5.79},{"s":"FG","d":6.01,"v":5.57},{"s":"FG","d":6.25,"v":5.0},{"s":"FG","d":6.4,"v":5.0},{"s":"FG","d":6.49,"v":6.87},{"s":"FG","d":6.66,"v":6.84},{"s":"FG","d":6.8,"v":7.0},{"s":"FG","d":6.97,"v":7.59},{"s":"FG","d":7.16,"v":7.95},{"s":"FG","d":7.4,"v":8.14},{"s":"FG","d":7.5,"v":9.03},{"s":"FG","d":7.57,"v":9.1},{"s":"FG","d":7.76,"v":8.48},{"s":"FG","d":8.02,"v":8.74},{"s":"FG","d":8.28,"v":8.38},{"s":"FG","d":8.4,"v":8.8},{"s":"FG","d":8.55,"v":9.6},{"s":"FG","d":8.64,"v":9.39},{"s":"FG","d":8.76,"v":8.88},{"s":"FG","d":8.88,"v":8.77},{"s":"FG","d":9.12,"v":8.67},{"s":"FG","d":9.31,"v":8.67},{"s":"FG","d":9.43,"v":9.39},{"s":"FG","d":9.55,"v":9.72},{"s":"FG","d":9.67,"v":9.17},{"s":"FG","d":9.79,"v":8.52},{"s":"FG","d":10.03,"v":8.31},{"s":"FG","d":10.32,"v":8.05},{"s":"FG","d":10.44,"v":8.74},{"s":"FG","d":10.56,"v":9.29},{"s":"FG","d":10.68,"v":8.88},{"s":"FG","d":10.8,"v":8.02},{"s":"FG","d":11.04,"v":7.59},{"s":"FG","d":11.28,"v":7.23},{"s":"FG","d":11.4,"v":7.62},{"s":"FG","d":11.54,"v":8.6},{"s":"FG","d":11.66,"v":8.02},{"s":"FG","d":11.87,"v":7.23},{"s":"FG","d":12.07,"v":6.8},{"s":"FG","d":12.28,"v":6.58},{"s":"FG","d":12.4,"v":7.0},{"s":"FG","d":12.55,"v":7.7},{"s":"FG","d":12.65,"v":7.44},{"s":"FG","d":12.82,"v":6.51},{"s":"FG","d":13.01,"v":6.22},{"s":"FG","d":13.26,"v":6.03},{"s":"FG","d":13.35,"v":6.08},{"s":"FG","d":13.5,"v":6.94},{"s":"FG","d":13.59,"v":7.13},{"s":"FG","d":13.69,"v":7.0},{"s":"FG","d":13.81,"v":6.58},{"s":"FG","d":14.06,"v":5.79},{"s":"FG","d":14.29,"v":5.03},{"s":"FG","d":14.39,"v":5.43},{"s":"FG","d":14.53,"v":6.36},{"s":"FG","d":14.63,"v":6.0},{"s":"FG","d":14.77,"v":5.0},{"s":"FG","d":15.01,"v":4.68},{"s":"FG","d":15.25,"v":4.06},{"s":"FG","d":15.34,"v":4.13},{"s":"FG","d":15.49,"v":5.43},{"s":"FG","d":15.56,"v":5.64},{"s":"FG","d":15.68,"v":5.0},{"s":"FG","d":15.82,"v":4.28},{"s":"FG","d":16.1,"v":3.99},{"s":"FG","d":16.29,"v":3.96}
]
},
"layer": [
{
"data": {"values": [{}]},
"mark": {"type": "rule", "color": "#aaaaaa", "strokeWidth": 1.5},
"encoding": {"y": {"datum": 0, "type": "quantitative"}}
},
{
"data": {"name": "punten"},
"transform": [{"lookup": "s", "from": {"data": {"name": "reeksen"}, "key": "s", "fields": ["naam"]}}],
"mark": {"type": "line", "interpolate": "monotone", "strokeCap": "butt", "strokeJoin": "round"},
"encoding": {
"x": {"field": "d", "type": "quantitative",
 "scale": {"domain": [-0.121, 16.45], "nice": false, "zero": false},
 "axis": {"orient": "bottom", "values": [0,1,2,3,4,5,6,7,8,9,10,11,12,13,14,15,16],
  "labelExpr": "[['Don','Vri','Zat','Zon','Maa','Din','Woe'][datum.value % 7], timeFormat(datetime(2021, 11, 23 + datum.value), '%d-%m')]",
  "grid": false, "ticks": true, "tickColor": "#ccd6eb", "tickSize": 15, "tickWidth": 1.5,
  "domain": true, "domainColor": "#ccd6eb", "domainWidth": 1.5,
  "labelFont": "DejaVu Sans", "labelFontSize": 18, "labelColor": "#666666", "labelPadding": 3, "labelLineHeight": 25,
  "labelOverlap": false, "labelFlush": false, "labelBound": false,
  "title": "Weerpluimen.nl", "titleAnchor": "end", "titleAlign": "right", "titleX": 2308, "titleY": 265,
  "titleBaseline": "middle", "titleFont": "DejaVu Sans", "titleFontSize": 14, "titleFontWeight": "normal", "titleColor": "#999999"}},
"y": {"field": "v", "type": "quantitative",
 "scale": {"domain": [-8, 14], "nice": false, "zero": false},
 "axis": {"values": [-8,-6,-4,-2,0,2,4,6,8,10,12,14], "labelExpr": "'' + datum.value", "title": null, "grid": true, "gridColor": "#e6e6e6", "gridWidth": 1.5,
  "domain": false, "ticks": false, "labelPadding": 29, "labelFont": "DejaVu Sans", "labelFontSize": 18, "labelColor": "#666666"}},
"color": {"field": "naam", "type": "nominal",
 "scale": {"domain": ["GEM Oper 23-Dec 00z","GEM Controle 23-Dec 00z","GEM Gemiddelde 23-Dec 00z","GEM Bereik 23-Dec 00z","GEM Bereik 80% 23-Dec 00z","ECMWF Oper 23-Dec 00z","ECMWF Controle 23-Dec 00z","ECMWF Gemiddelde 23-Dec 00z","ECMWF Bereik 23-Dec 00z","ECMWF Bereik 80% 23-Dec 00z","GFS Oper 23-Dec 06z","GFS Controle 23-Dec 06z","GFS Gemiddelde 23-Dec 06z","GFS Bereik 23-Dec 06z","GFS Bereik 80% 23-Dec 06z","Gemeten Temperatuur"],
  "range": ["#fdc93d","#fdc93d","#fdc93d","#cccccc","#cccccc","#58b455","#58b455","#58b455","#cccccc","#cccccc","#9b59b6","#9b59b6","#9b59b6","#cccccc","#cccccc","#cccccc"]},
 "legend": {"title": null, "orient": "none", "legendX": 59, "legendY": 911, "direction": "horizontal", "columns": 5, "gridAlign": "all",
  "columnPadding": 32, "rowPadding": 6, "padding": 0, "offset": 0,
  "labelFont": "DejaVu Sans", "labelFontSize": 20, "labelFontWeight": "bold", "labelLimit": 600, "labelOffset": 8,
  "labelColor": {"expr": "test(/Bereik|Gemeten/, '' + datum.label) ? '#cccccc' : '#333333'"},
  "symbolType": {"expr": "test(/Bereik/, '' + datum.label) ? 'circle' : 'stroke'"},
  "symbolSize": {"expr": "test(/Bereik/, '' + datum.label) ? 330 : 784"},
  "symbolFillColor": "#cccccc", "symbolOffset": 0}},
"strokeDash": {"field": "naam", "type": "nominal",
 "scale": {"domain": ["GEM Oper 23-Dec 00z","GEM Controle 23-Dec 00z","GEM Gemiddelde 23-Dec 00z","GEM Bereik 23-Dec 00z","GEM Bereik 80% 23-Dec 00z","ECMWF Oper 23-Dec 00z","ECMWF Controle 23-Dec 00z","ECMWF Gemiddelde 23-Dec 00z","ECMWF Bereik 23-Dec 00z","ECMWF Bereik 80% 23-Dec 00z","GFS Oper 23-Dec 06z","GFS Controle 23-Dec 06z","GFS Gemiddelde 23-Dec 06z","GFS Bereik 23-Dec 06z","GFS Bereik 80% 23-Dec 06z","Gemeten Temperatuur"],
  "range": [[1,0],[3,4],[10,6],[1,0],[1,0],[1,0],[3,4],[10,6],[1,0],[1,0],[1,0],[3,4],[10,6],[1,0],[1,0],[1,0]]}},
"strokeWidth": {"field": "naam", "type": "nominal",
 "scale": {"type": "ordinal", "domain": ["GEM Oper 23-Dec 00z","GEM Controle 23-Dec 00z","GEM Gemiddelde 23-Dec 00z","GEM Bereik 23-Dec 00z","GEM Bereik 80% 23-Dec 00z","ECMWF Oper 23-Dec 00z","ECMWF Controle 23-Dec 00z","ECMWF Gemiddelde 23-Dec 00z","ECMWF Bereik 23-Dec 00z","ECMWF Bereik 80% 23-Dec 00z","GFS Oper 23-Dec 06z","GFS Controle 23-Dec 06z","GFS Gemiddelde 23-Dec 06z","GFS Bereik 23-Dec 06z","GFS Bereik 80% 23-Dec 06z","Gemeten Temperatuur"],
  "range": [4.6,3,3,0,0,4.6,3,3,0,0,4.6,3,3,0,0,4.6]}}
}
}
]
}
